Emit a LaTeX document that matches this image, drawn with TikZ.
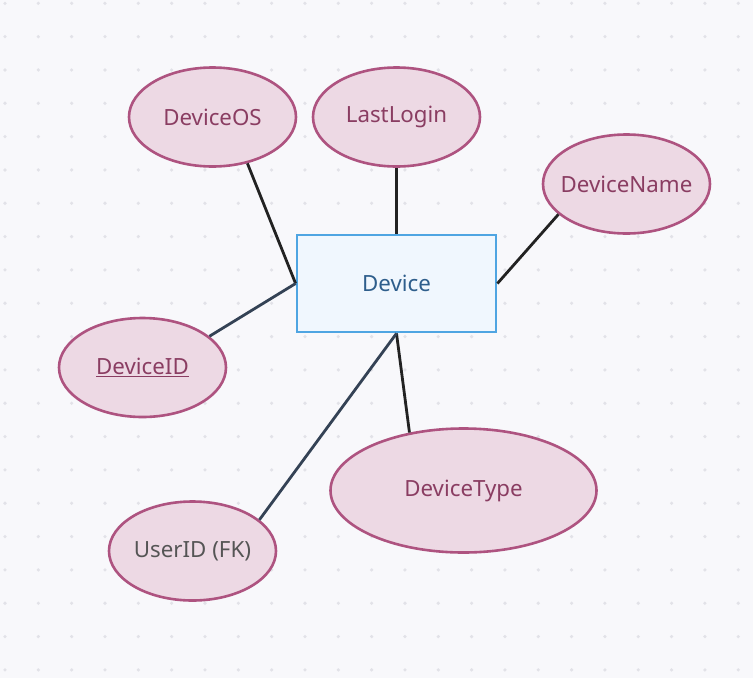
\documentclass[tikz,border=0pt]{standalone}
\usepackage{fontspec}
\setmainfont{Noto Sans}
\usetikzlibrary{shapes.geometric}
\definecolor{bgc}{HTML}{F8F8FB}
\definecolor{dotc}{HTML}{E2E2E8}
\definecolor{attrfill}{HTML}{EDD9E4}
\definecolor{attrdraw}{HTML}{AE5380}
\definecolor{attrtext}{HTML}{8A3D62}
\definecolor{entfill}{HTML}{F0F7FE}
\definecolor{entdraw}{HTML}{4FA5E2}
\definecolor{enttext}{HTML}{2E5E8C}
\definecolor{linek}{HTML}{222222}
\definecolor{lines}{HTML}{344255}
\definecolor{fktext}{HTML}{555555}
\tikzset{
  attr/.style={ellipse, draw=attrdraw, fill=attrfill, line width=2.6pt, text=attrtext,
    font=\fontsize{22.3}{26}\selectfont, inner sep=0pt, minimum width=#1},
  attr/.default=167pt,
  entity/.style={rectangle, draw=entdraw, fill=entfill, line width=2.8pt, text=enttext,
    font=\fontsize{22.3}{26}\selectfont, minimum width=199pt, minimum height=97pt},
  conk/.style={draw=linek, line width=2.8pt},
  cons/.style={draw=lines, line width=2.8pt},
}
\begin{document}
\begin{tikzpicture}[x=1pt,y=-1pt]
\fill[bgc] (0,0) rectangle (753,678);
\useasboundingbox (0,0) rectangle (753,678);
\foreach \i in {0,...,22} {
  \foreach \j in {0,...,20} {
    \fill[dotc] ({5+33.33*\i},{3.3+33.33*\j}) circle (1.8pt);
  }
}
\node[entity] (dev) at (396.5,283.5) {Device};
\node[attr, minimum height=99pt] (os) at (212.5,117) {\makebox[0pt]{DeviceOS}};
\node[attr, minimum height=99pt] (ll) at (396.5,117) {\makebox[0pt]{LastLogin}};
\node[attr, minimum height=99pt] (dn) at (626.5,184) {\makebox[0pt]{DeviceName}};
\node[attr, minimum height=99pt] (did) at (142.5,367.5) {\makebox[0pt]{\underline{DeviceID}}};
\node[attr=266pt, minimum height=124pt] (dt) at (463.5,490.5) {\makebox[0pt]{DeviceType}};
\node[attr, minimum height=99pt, text=fktext] (uid) at (192.5,551) {\makebox[0pt]{UserID (FK)}};
\draw[conk] (dev.west) -- (os.-53);
\draw[conk] (dev.north) -- (ll.south);
\draw[conk] (dev.east) -- (dn.-156);
\draw[cons] (dev.west) -- (did.25);
\draw[conk] (dev.south) -- (dt.133);
\draw[cons] (dev.south) -- (uid.25);
\end{tikzpicture}
\end{document}
